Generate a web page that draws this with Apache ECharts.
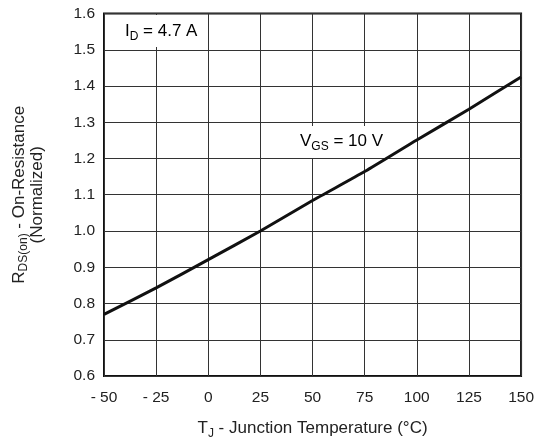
<!DOCTYPE html>
<html>
<head>
<meta charset="utf-8">
<script src="https://cdn.jsdelivr.net/npm/echarts@6/dist/echarts.min.js"></script>
<style>
  html, body { margin: 0; padding: 0; background: #fff; }
  #chart { width: 537px; height: 445px; }
</style>
</head>
<body>
<div id="chart"></div>
<script>
// ---- data ----
const temperatures = [-50, -25, 0, 25, 50, 75, 100, 125, 150];
const rdsOnNormalized = [0.77, 0.843, 0.921, 1.0, 1.084, 1.164, 1.251, 1.336, 1.425];
const xTicks = { min: -50, max: 150, interval: 25 };
const yTicks = { min: 0.6, max: 1.6, interval: 0.1 };
const idLabel = ['I', 'D', ' = 4.7 A'];
const vgsLabel = ['V', 'GS', ' = 10 V'];
const xTitle = ['T', 'J', ' - Junction Temperature (°C)'];
const yTitle = ['R', 'DS(on)', ' - On-Resistance', '(Normalized)'];

const FONT = 'Liberation Sans, Arial, sans-serif';
const TXT = '#222';
const rich = {
  n: { fontSize: 17, lineHeight: 20, color: TXT, fontFamily: FONT },
  s: { fontSize: 12, lineHeight: 8, color: TXT, fontFamily: FONT, padding: [12, 0, 0, 0] }
};
const richY = {
  n: { fontSize: 17, lineHeight: 18, color: TXT, fontFamily: FONT },
  s: { fontSize: 12, lineHeight: 8, color: TXT, fontFamily: FONT, padding: [10, 0, 0, 0] }
};

const chart = echarts.init(document.getElementById('chart'));
const data = temperatures.map((t, i) => [t, rdsOnNormalized[i]]);

chart.setOption({
  backgroundColor: '#fff',
  animation: false,
  grid: {
    left: 104, right: 15, top: 13.5, bottom: 67,
    show: true, borderColor: '#111', borderWidth: 2, backgroundColor: 'transparent'
  },
  xAxis: {
    type: 'value',
    min: xTicks.min, max: xTicks.max, interval: xTicks.interval,
    axisLine: { show: false },
    axisTick: { show: false },
    splitLine: { show: true, lineStyle: { color: '#333', width: 1 } },
    axisLabel: {
      margin: 14, fontSize: 15.5, color: TXT, fontFamily: FONT,
      formatter: v => (v < 0 ? '- ' + Math.abs(v) : String(v))
    },
    name: `{n|${xTitle[0]}}{s|${xTitle[1]}}{n|${xTitle[2]}}`,
    nameLocation: 'middle',
    nameGap: 42,
    nameTextStyle: { rich: rich }
  },
  yAxis: {
    type: 'value',
    min: yTicks.min, max: yTicks.max, interval: yTicks.interval,
    axisLine: { show: false },
    axisTick: { show: false },
    splitLine: { show: true, lineStyle: { color: '#333', width: 1 } },
    axisLabel: {
      margin: 9, fontSize: 15.5, color: TXT, fontFamily: FONT,
      formatter: v => v.toFixed(1)
    },
    name: `{n|${yTitle[0]}}{s|${yTitle[1]}}{n|${yTitle[2]}}\n{n|${yTitle[3]}}`,
    nameLocation: 'middle',
    nameRotate: 90,
    nameGap: 58,
    nameTextStyle: { rich: richY, align: 'center' }
  },
  series: [{
    type: 'line',
    data: data,
    smooth: 0.2,
    showSymbol: false,
    lineStyle: { color: '#111', width: 3 },
    z: 5
  }],
  graphic: [
    { type: 'rect', shape: { x: 105, y: 15, width: 99, height: 32 }, style: { fill: '#fff' }, z: 3 },
    {
      type: 'text', x: 125, y: 31, z: 10,
      style: {
        text: `{n|${idLabel[0]}}{s|${idLabel[1]}}{n|${idLabel[2]}}`,
        rich: rich, align: 'left', verticalAlign: 'middle'
      }
    },
    { type: 'rect', shape: { x: 296, y: 126, width: 92, height: 32 }, style: { fill: '#fff' }, z: 3 },
    {
      type: 'text', x: 300, y: 141, z: 10,
      style: {
        text: `{n|${vgsLabel[0]}}{s|${vgsLabel[1]}}{n|${vgsLabel[2]}}`,
        rich: rich, align: 'left', verticalAlign: 'middle'
      }
    }
  ]
});
</script>
</body>
</html>
